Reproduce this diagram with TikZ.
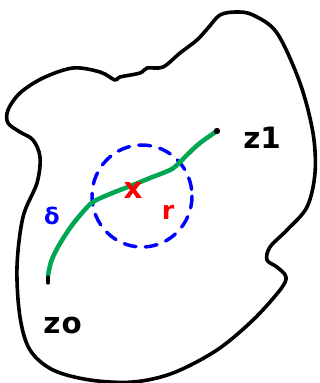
\documentclass[tikz,border=0pt]{standalone}
\usepackage{fontspec}
\setsansfont{DejaVu Sans}
\begin{document}
\begin{tikzpicture}[x=0.75pt,y=-0.75pt,line cap=round,line join=round,
  outline/.style={draw=black,line width=2.7pt},
  pathline/.style={draw={rgb,255:red,0;green,166;blue,81},line width=3.4pt},
  disc/.style={draw=blue,line width=2.6pt,dash pattern=on 9pt off 7pt},
  lbl/.style={font=\sffamily\bfseries\fontsize{22}{22}\selectfont,inner sep=0pt}]
\useasboundingbox (0,0) rectangle (320,383);
% region outline
\draw[outline] plot[smooth cycle,tension=0.55] coordinates {
 (208,28) (220,15) (236,12) (253,15) (277,33) (300,83) (313,133) (315,173)
 (307,207) (287,230) (270,247) (267,260) (277,267) (286,277) (280,290)
 (253,320) (217,350) (173,373) (133,382) (90,380) (53,370) (30,350)
 (20,317) (17,267) (23,217) (37,183) (40,157) (33,140) (20,132) (8,123)
 (8,110) (20,93) (43,78) (73,68) (100,72) (115,80) (120,77) (140,73)
 (147,68) (163,67) (180,53) (197,40)};
% dashed disc
\draw[disc] (142,196) ellipse [x radius=50,y radius=51];
% endpoints
\coordinate (a) at (48,276);
\coordinate (b) at (217,131);
% path
\draw[pathline] plot[smooth,tension=0.6] coordinates {
 (a) (51,262) (58,247) (70,228) (82,213) (93,202) (110,194) (133,185)
 (150,178) (170,170) (178,164) (188,154) (200,143) (b)};
\fill[black] (b) circle [radius=3.2];
\draw[black,line width=2.4pt] (48,277) -- (48,283);
% labels
\node[lbl,anchor=west] (z1) at (243,138) {z1};
\node[lbl,anchor=west] (z0) at (43,325) {z\kern1pt o};
\node[font=\sffamily\bfseries\fontsize{17}{17}\selectfont,text=blue,inner sep=0pt] (d) at (52,216) {δ};
\node[font=\sffamily\bfseries\fontsize{22}{22}\selectfont,text=red,inner sep=0pt] (x) at (133,190) {x};
\node[font=\sffamily\bfseries\fontsize{19}{19}\selectfont,text=red,inner sep=0pt] (r) at (168,212) {r};
\end{tikzpicture}
\end{document}
